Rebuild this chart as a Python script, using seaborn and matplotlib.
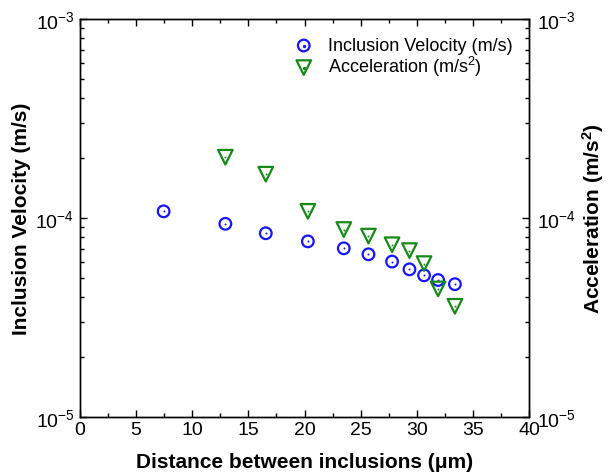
import numpy as np
import pandas as pd
import matplotlib
matplotlib.use("Agg")
import matplotlib.pyplot as plt
import seaborn as sns
from matplotlib.ticker import MultipleLocator, LogLocator, NullFormatter
from matplotlib.legend_handler import HandlerTuple

# Data
vel_x = [7.45, 12.95, 16.55, 20.3, 23.5, 25.7, 27.8, 29.35, 30.65, 31.9, 33.4]
vel_y = [1.08e-4, 9.35e-5, 8.38e-5, 7.63e-5, 7.04e-5, 6.57e-5, 6.04e-5, 5.52e-5, 5.15e-5, 4.88e-5, 4.65e-5]
acc_x = [12.95, 16.55, 20.3, 23.5, 25.7, 27.8, 29.35, 30.65, 31.9, 33.4]
acc_y = [2.02e-4, 1.66e-4, 1.08e-4, 8.75e-5, 8.11e-5, 7.34e-5, 6.86e-5, 5.9e-5, 4.40e-5, 3.60e-5]

sns.set_theme(style="ticks")
plt.rcParams['font.family'] = ['Liberation Sans', 'DejaVu Sans']
plt.rcParams['mathtext.fontset'] = 'custom'
plt.rcParams['mathtext.rm'] = 'Liberation Sans'
plt.rcParams['mathtext.it'] = 'Liberation Sans:italic'
plt.rcParams['mathtext.bf'] = 'Liberation Sans:bold'
plt.rcParams['text.color'] = 'black'
plt.rcParams['axes.labelcolor'] = 'black'
plt.rcParams['xtick.color'] = 'black'
plt.rcParams['ytick.color'] = 'black'

df_v = pd.DataFrame({"x": vel_x, "y": vel_y})
df_a = pd.DataFrame({"x": acc_x, "y": acc_y})

fig = plt.figure(figsize=(6.06, 4.77), dpi=100)
ax = fig.add_axes([80/606, 1-418/477, 449/606, 398/477])
ax2 = ax.twinx()

blue = "#1515ff"
green = "#168a16"

sns.scatterplot(data=df_v, x="x", y="y", ax=ax, marker="o", s=70,
                facecolors="none", edgecolor=blue, linewidth=1.6, zorder=3)
sns.scatterplot(data=df_v, x="x", y="y", ax=ax, marker="o", s=2,
                color=blue, edgecolor=blue, linewidth=0, zorder=4)
sns.scatterplot(data=df_a, x="x", y="y", ax=ax2, marker="v", s=110,
                facecolors="none", edgecolor=green, linewidth=1.6, zorder=3)
sns.scatterplot(data=df_a, x="x", y="y", ax=ax2, marker="o", s=2,
                color=green, edgecolor=green, linewidth=0, zorder=4)

for a in (ax, ax2):
    a.set_yscale("log")
    a.set_ylim(1e-5, 1e-3)
    a.set_xlim(0, 40)
    a.yaxis.set_major_locator(LogLocator(base=10, numticks=5))
    a.yaxis.set_minor_locator(LogLocator(base=10, subs=np.arange(2, 10), numticks=20))
    a.yaxis.set_minor_formatter(NullFormatter())
    a.tick_params(axis="both", which="both", direction="in", labelsize=14, color="black")
    a.tick_params(which="major", length=5, width=1)
    a.tick_params(which="minor", length=3, width=1)
    for sp in a.spines.values():
        sp.set_linewidth(1.0)
        sp.set_color("black")

ax.xaxis.set_major_locator(MultipleLocator(5))
ax.xaxis.set_minor_locator(MultipleLocator(2.5))
ax.tick_params(axis="x", which="both", top=True)
ax.tick_params(axis="x", pad=3)
ax.tick_params(axis="y", pad=4)
ax2.tick_params(axis="y", pad=6)

ax.set_xlabel("Distance between inclusions (μm)", fontsize=15, fontweight="bold", labelpad=10)
ax.set_ylabel("Inclusion Velocity (m/s)", fontsize=15, fontweight="bold", labelpad=3)
ax2.set_ylabel("Acceleration (m/s$^\\mathbf{2}$)", fontsize=15, fontweight="bold", labelpad=3)

# Legend
h1 = ax.scatter([], [], marker="o", s=70, facecolors="none", edgecolors=blue, linewidths=1.6)
h1d = ax.scatter([], [], marker="o", s=2, color=blue)
h2 = ax.scatter([], [], marker="v", s=110, facecolors="none", edgecolors=green, linewidths=1.6)
h2d = ax.scatter([], [], marker="o", s=2, color=green)
leg = ax2.legend([(h1, h1d), (h2, h2d)], ["Inclusion Velocity (m/s)", "Acceleration (m/s$^2$)"],
                 handler_map={tuple: HandlerTuple(ndivide=1, pad=0)},
                 loc="upper right", bbox_to_anchor=(1.0, 0.995), frameon=False, fontsize=13,
                 handlelength=1.5, handletextpad=0.6, labelspacing=0.0, borderaxespad=0.5)
if ax.get_legend() is not None:
    ax.get_legend().remove()

fig.savefig("out.png", dpi=100)
